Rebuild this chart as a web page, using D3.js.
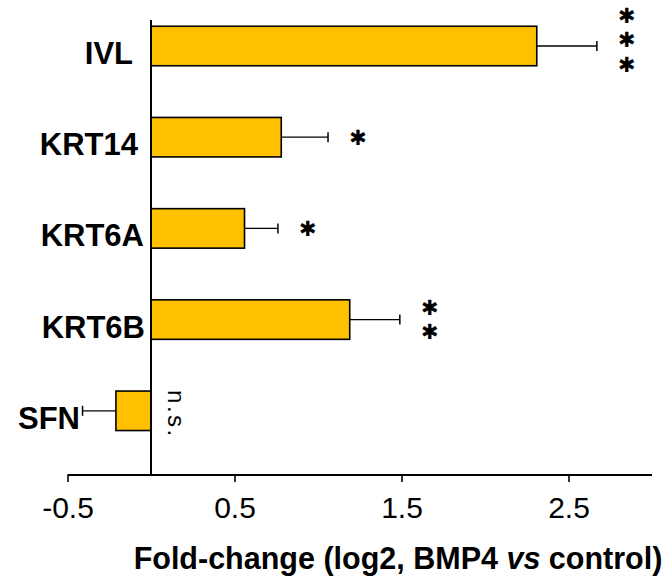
<!DOCTYPE html>
<html>
<head>
<meta charset="utf-8">
<script src="https://cdn.jsdelivr.net/npm/d3@7"></script>
<style>
  body { margin: 0; background: #fff; }
  text { font-family: "Liberation Sans", Arial, sans-serif; fill: #000; }
</style>
</head>
<body>
<div class="chart"></div>
<script>
// data
var genes = ["IVL", "KRT14", "KRT6A", "KRT6B", "SFN"];
var foldChange = [2.31, 0.78, 0.56, 1.19, -0.21];
var errors = [0.36, 0.28, 0.20, 0.30, 0.20];
var signif = ["***", "*", "*", "**", "n.s."];
var xTicks = [-0.5, 0.5, 1.5, 2.5];

// label right edges (labels are not aligned in the original)
var labelEnd = [133, 138, 144, 145, 80];

var svgWidth = 669;
var svgHeight = 580;

var svg = d3.select(".chart")
  .append("svg")
  .attr("width", svgWidth)
  .attr("height", svgHeight);

var x = d3.scaleLinear()
  .domain([-0.5, 3])
  .range([67.5, 652]);

var y = d3.scaleBand()
  .domain(genes)
  .range([0.4, 456.4])
  .paddingInner(0.567)
  .paddingOuter(0.2835);

var axisY = 475;

var rows = genes.map(function(g, i) {
  return { gene: g, value: foldChange[i], err: errors[i], sig: signif[i], lx: labelEnd[i] };
});

// bars
svg.selectAll("rect.bar")
  .data(rows)
  .enter()
  .append("rect")
  .attr("class", "bar")
  .attr("x", d => x(Math.min(0, d.value)))
  .attr("y", d => y(d.gene))
  .attr("width", d => Math.abs(x(d.value) - x(0)))
  .attr("height", y.bandwidth())
  .attr("fill", "#FFC000")
  .attr("stroke", "#000")
  .attr("stroke-width", 1.6);

// error bars (one-sided, away from zero)
var eb = svg.selectAll("g.err")
  .data(rows)
  .enter()
  .append("g")
  .attr("class", "err");

eb.append("line")
  .attr("x1", d => x(d.value))
  .attr("x2", d => x(d.value + Math.sign(d.value) * d.err))
  .attr("y1", d => y(d.gene) + y.bandwidth() / 2)
  .attr("y2", d => y(d.gene) + y.bandwidth() / 2)
  .attr("stroke", "#000")
  .attr("stroke-width", 1.3);

eb.append("line")
  .attr("x1", d => x(d.value + Math.sign(d.value) * d.err))
  .attr("x2", d => x(d.value + Math.sign(d.value) * d.err))
  .attr("y1", d => y(d.gene) + y.bandwidth() / 2 - 5)
  .attr("y2", d => y(d.gene) + y.bandwidth() / 2 + 5)
  .attr("stroke", "#000")
  .attr("stroke-width", 1.5);

// y axis line at zero
svg.append("line")
  .attr("x1", x(0))
  .attr("x2", x(0))
  .attr("y1", 20)
  .attr("y2", axisY)
  .attr("stroke", "#000")
  .attr("stroke-width", 2);

// x axis
var bottomAxis = d3.axisBottom(x)
  .tickValues(xTicks)
  .tickSize(7)
  .tickPadding(15)
  .tickFormat(d3.format(".1f"));

var gx = svg.append("g")
  .attr("transform", `translate(0, ${axisY})`)
  .call(bottomAxis);

gx.select(".domain")
  .attr("d", `M${x(-0.5)},0H${x(3)}`)
  .attr("stroke", "#000")
  .attr("stroke-width", 2);
gx.selectAll(".tick line").attr("stroke", "#000").attr("stroke-width", 1.6);
gx.selectAll(".tick text")
  .attr("font-family", "'Liberation Sans', Arial, sans-serif")
  .attr("font-size", 30)
  .attr("fill", "#000")
  .text(d => d.toFixed(1));

// category labels
svg.selectAll("text.cat")
  .data(rows)
  .enter()
  .append("text")
  .attr("class", "cat")
  .attr("x", d => d.lx)
  .attr("y", d => y(d.gene) + y.bandwidth() / 2 + 18)
  .attr("text-anchor", "end")
  .attr("font-size", 31)
  .attr("font-weight", "bold")
  .text(d => d.gene);

// significance stars, one glyph per line, stacked
rows.filter(d => d.sig !== "n.s.").forEach(function(d) {
  var n = d.sig.length;
  var cx = x(d.value + d.err) + 30;
  var cy = y(d.gene) + y.bandwidth() / 2 - (n === 3 ? 6 : 0);
  for (var k = 0; k < n; k++) {
    svg.append("text")
      .attr("x", cx)
      .attr("y", cy + (k - (n - 1) / 2) * 24.5)
      .attr("dy", "0.35em")
      .attr("text-anchor", "middle")
      .style("font-family", "'DejaVu Sans', sans-serif")
      .attr("font-size", 21)
      .text("\u2731");
  }
});

// n.s. label, rotated
rows.filter(d => d.sig === "n.s.").forEach(function(d) {
  svg.append("text")
    .attr("transform", `translate(${x(0) + 17}, ${y(d.gene) - 1}) rotate(90)`)
    .attr("font-size", 24)
    .attr("letter-spacing", 2.5)
    .text(d.sig);
});

// axis title
var title = svg.append("text")
  .attr("x", 398)
  .attr("y", 569)
  .attr("text-anchor", "middle")
  .attr("font-size", 30.5)
  .attr("font-weight", "bold");
title.append("tspan").text("Fold-change (log2, BMP4 ");
title.append("tspan").attr("font-style", "italic").text("vs");
title.append("tspan").text(" control)");
</script>
</body>
</html>
